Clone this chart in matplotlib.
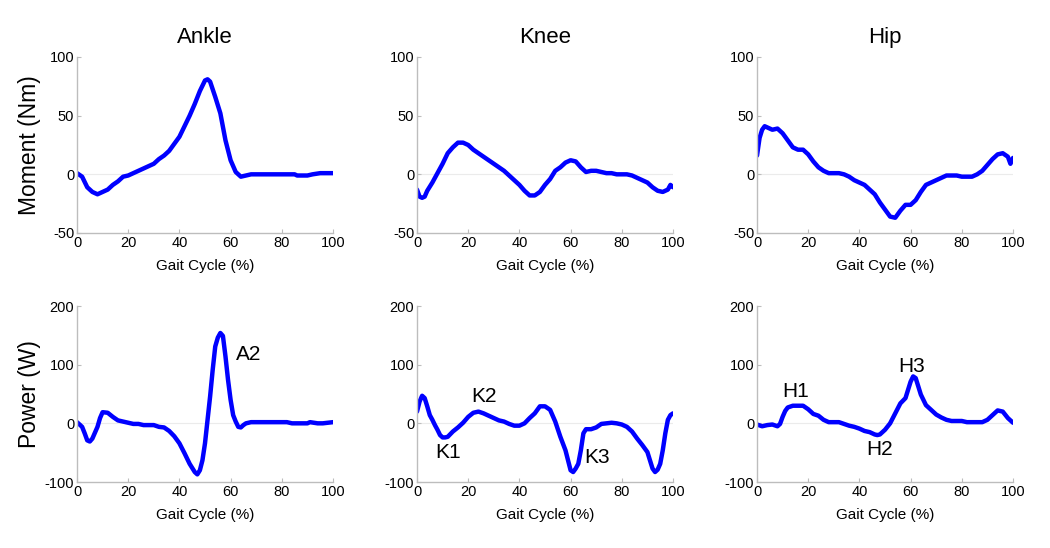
import numpy as np
import matplotlib.pyplot as plt

plt.rcParams['font.family'] = ['Liberation Sans', 'DejaVu Sans']
plt.rcParams['axes.unicode_minus'] = False

# ---- data (gait cycle %, value) ----
ankle_m_x = [0, 2, 4, 6, 8, 10, 12, 14, 16, 18, 20, 22, 24, 26, 28, 30, 32, 34, 36, 38,
             40, 42, 44, 46, 48, 50, 51, 52, 54, 56, 58, 60, 62, 64, 66, 68, 70, 75, 80, 85,
             86, 88, 90, 92, 95, 100]
ankle_m_y = [1, -2, -11, -15, -17, -15, -13, -9, -6, -2, -1, 1, 3, 5, 7, 9, 13, 16, 20, 26,
             32, 41, 50, 60, 71, 80, 81, 79, 66, 52, 29, 12, 2, -2, -1, 0, 0, 0, 0, 0,
             -1, -1, -1, 0, 1, 1]

knee_m_x = [0, 1, 2, 3, 4, 6, 8, 10, 12, 14, 16, 18, 20, 22, 24, 26, 28, 30, 32, 34, 36,
            38, 40, 42, 44, 46, 48, 50, 52, 54, 56, 58, 60, 62, 64, 66, 68, 70, 72, 74,
            76, 78, 80, 82, 84, 86, 88, 90, 92, 94, 96, 98, 99, 100]
knee_m_y = [-13, -19, -20, -19, -14, -7, 1, 9, 18, 23, 27, 27, 25, 21, 18, 15, 12, 9, 6, 3, -1,
            -5, -9, -14, -18, -18, -15, -9, -4, 3, 6, 10, 12, 11, 6, 2, 3, 3, 2, 1,
            1, 0, 0, 0, -1, -3, -5, -7, -11, -14, -15, -13, -9, -11]

hip_m_x = [0, 1, 2, 3, 4, 6, 8, 10, 12, 14, 16, 18, 20, 22, 24, 26, 28, 30, 32, 34, 36, 38,
           40, 42, 44, 46, 48, 50, 52, 54, 56, 58, 60, 62, 64, 66, 68, 70, 72, 74, 76, 78,
           80, 82, 84, 86, 88, 90, 92, 94, 96, 98, 99, 100]
hip_m_y = [16, 31, 38, 41, 40, 38, 39, 35, 29, 23, 21, 21, 17, 11, 6, 3, 1, 1, 1, 0, -2, -5,
           -7, -9, -13, -17, -24, -30, -36, -37, -31, -26, -26, -22, -15, -9, -7, -5, -3, -1, -1, -1,
           -2, -2, -2, 0, 3, 8, 13, 17, 18, 15, 9, 14]

ankle_p_x = [0, 2, 3, 4, 5, 6, 8, 9, 10, 12, 14, 16, 18, 20, 22, 24, 26, 28, 30, 32, 34, 36,
             38, 40, 42, 44, 46, 47, 48, 49, 50, 51, 52, 53, 54, 55, 56, 57, 58, 59, 60, 61,
             62, 63, 64, 65, 66, 68, 82, 84, 90, 91, 94, 96, 98, 100]
ankle_p_y = [2, -6, -17, -29, -31, -26, -6, 9, 19, 18, 11, 5, 3, 1, -1, -1, -3, -3, -3, -6, -7, -13,
             -22, -34, -51, -69, -83, -87, -80, -63, -34, 6, 46, 91, 131, 146, 154, 149, 114, 74, 40, 14,
             3, -6, -7, -3, 0, 2, 2, 0, 0, 2, 0, 0, 1, 2]

knee_p_x = [0, 1, 2, 3, 4, 5, 6, 7, 8, 9, 10, 11, 12, 14, 16, 18, 20, 22, 24, 26, 28, 30, 32,
            34, 36, 38, 40, 42, 44, 46, 48, 50, 52, 54, 56, 58, 59, 60, 61, 62, 63, 64, 65,
            66, 68, 70, 72, 74, 76, 78, 80, 82, 84, 86, 88, 90, 91, 92, 93, 94, 95, 96, 97,
            98, 99, 100]
knee_p_y = [20, 37, 47, 43, 29, 14, 6, -3, -11, -20, -24, -24, -23, -14, -7, 1, 11, 18, 20, 17, 13, 9, 5,
            3, -1, -4, -4, 0, 9, 17, 29, 29, 23, 3, -23, -46, -63, -80, -83, -77, -69, -46, -17,
            -10, -10, -7, -1, 0, 1, 0, -2, -6, -14, -26, -37, -49, -63, -77, -83, -79, -69, -46, -17,
            6, 14, 17]

hip_p_x = [0, 2, 4, 6, 8, 9, 10, 11, 12, 14, 16, 18, 20, 22, 24, 26, 28, 30, 32, 34, 36, 38,
           40, 42, 44, 46, 47, 48, 50, 52, 54, 56, 58, 59, 60, 61, 62, 63, 64, 66, 68, 70,
           72, 74, 76, 80, 82, 84, 88, 90, 92, 94, 96, 98, 100]
hip_p_y = [-2, -5, -3, -2, -5, -1, 11, 21, 27, 30, 30, 30, 24, 16, 13, 6, 2, 2, 2, -1, -4, -6,
           -9, -13, -15, -19, -20, -19, -11, 0, 17, 34, 43, 57, 71, 80, 77, 63, 49, 31, 23, 15,
           10, 6, 4, 4, 2, 2, 2, 6, 14, 22, 20, 9, 1]

titles = ['Ankle', 'Knee', 'Hip']
moment_series = [(ankle_m_x, ankle_m_y), (knee_m_x, knee_m_y), (hip_m_x, hip_m_y)]
power_series = [(ankle_p_x, ankle_p_y), (knee_p_x, knee_p_y), (hip_p_x, hip_p_y)]

power_labels = [
    [('A2', 62, 117)],
    [('K1', 7, -49), ('K2', 21, 46), ('K3', 65.5, -59)],
    [('H1', 10, 54), ('H2', 42.5, -45), ('H3', 55, 97)],
]

fig = plt.figure(figsize=(10.5, 5.48), dpi=100)

lefts = [77 / 1050, 417 / 1050, 757 / 1050]
width = 256 / 1050
height = 176 / 548
bottoms = [1 - 233 / 548, 1 - 482 / 548]


def style_axes(ax, ylim, yticks):
    ax.set_xlim(0, 100)
    ax.set_ylim(*ylim)
    ax.set_xticks([0, 20, 40, 60, 80, 100])
    ax.set_yticks(yticks)
    for s in ['top', 'right']:
        ax.spines[s].set_visible(False)
    for s in ['left', 'bottom']:
        ax.spines[s].set_color('#bdbdbd')
        ax.spines[s].set_linewidth(1.0)
    ax.tick_params(direction='in', length=3, color='#bdbdbd', labelsize=10.5, pad=2)
    ax.axhline(0, color='#ebebeb', lw=0.8, zorder=0)
    ax.set_xlabel('Gait Cycle (%)', fontsize=11)
    ax.xaxis.set_label_coords(0.5, -0.15)


for i in range(3):
    ax = fig.add_axes([lefts[i], bottoms[0], width, height])
    x, y = moment_series[i]
    ax.plot(x, y, color='#0000ff', lw=3.2, solid_joinstyle='round', solid_capstyle='round')
    style_axes(ax, (-50, 100), [-50, 0, 50, 100])
    ax.set_title(titles[i], fontsize=16, pad=10)
    if i == 0:
        ax.set_ylabel('Moment (Nm)', fontsize=16.5)
        ax.yaxis.set_label_coords(-0.14, 0.5)

    ax = fig.add_axes([lefts[i], bottoms[1], width, height])
    x, y = power_series[i]
    ax.plot(x, y, color='#0000ff', lw=3.2, solid_joinstyle='round', solid_capstyle='round')
    style_axes(ax, (-100, 200), [-100, 0, 100, 200])
    for txt, tx, ty in power_labels[i]:
        ax.text(tx, ty, txt, fontsize=15, ha='left', va='center')
    if i == 0:
        ax.set_ylabel('Power (W)', fontsize=16.5)
        ax.yaxis.set_label_coords(-0.14, 0.5)

fig.savefig('out.png', dpi=100)
